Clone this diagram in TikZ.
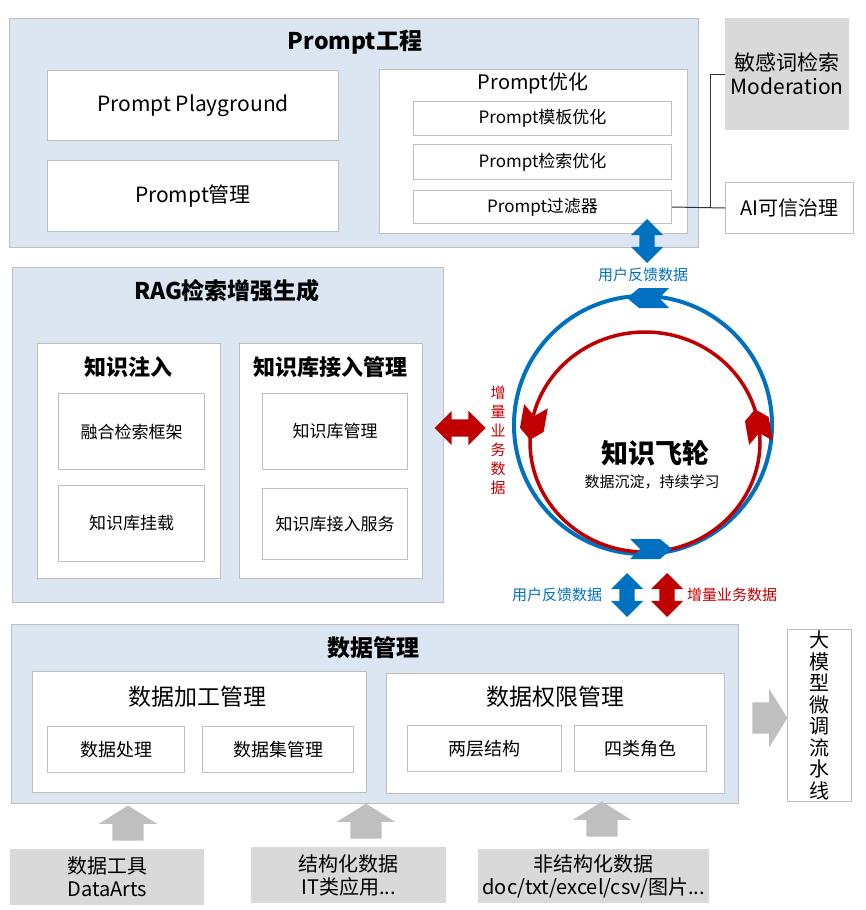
\documentclass[tikz,border=0pt]{standalone}
\usepackage{fontspec}
\setmainfont{Noto Sans CJK SC}
\usetikzlibrary{shapes.arrows}
\definecolor{flowblue}{HTML}{0070C0}
\definecolor{flowred}{HTML}{C00000}
\definecolor{panelblue}{HTML}{DCE6F2}
\definecolor{edgegray}{HTML}{BFBFBF}
\definecolor{boxgray}{HTML}{D9D9D9}
\definecolor{arrowgray}{HTML}{BFBFBF}
\begin{document}
\begin{tikzpicture}[x=1pt,y=-1pt,
    fs/.style n args={2}{font=\fontsize{#1}{#2}\selectfont},
    panel/.style={draw=edgegray, fill=panelblue, line width=1.2pt, anchor=north west, inner sep=0pt},
    card/.style={draw=edgegray, fill=white, line width=1pt, anchor=north west, inner sep=0pt, align=center},
    graycard/.style={fill=boxgray, anchor=north west, inner sep=0pt, align=center},
    headline/.style={font=\fontsize{23}{27}\selectfont\bfseries},
    fatarrow/.style={single arrow, fill=arrowgray, minimum height=35, minimum width=58,
        single arrow head extend=13.5, single arrow tip angle=116, inner xsep=0pt, inner ysep=15.5pt},
    duoarrow/.style={double arrow, minimum height=44, minimum width=32,
        double arrow head extend=8.5, double arrow tip angle=90, inner xsep=0pt, inner ysep=7.5pt}]
\useasboundingbox (0,0) rectangle (865,910);

% Prompt工程
\node[panel, minimum width=689, minimum height=229] (pe) at (9,18) {};
\node[headline] (pet) at (355,42) {Prompt工程};
\node[card, fs={21}{24}, minimum width=291, minimum height=70] (pg) at (47,70) {Prompt Playground};
\node[card, fs={21}{24}, minimum width=291, minimum height=71] (pm) at (47,160) {Prompt管理};
\node[card, minimum width=308, minimum height=164] (po) at (379,69) {};
\node[fs={20}{24}] (pot) at (533,83) {Prompt优化};
\node[card, fs={17}{20}, minimum width=258, minimum height=34] (pt) at (413,101) {Prompt模板优化};
\node[card, fs={17}{20}, minimum width=258, minimum height=35] (ps) at (413,144) {Prompt检索优化};
\node[card, fs={17}{20}, minimum width=258, minimum height=33] (pf) at (413,190) {Prompt过滤器};

% 可信治理
\node[graycard, fs={21}{24}, minimum width=124, minimum height=112] (mod) at (725,18) {敏感词检索\\Moderation};
\node[card, fs={20}{24}, minimum width=128, minimum height=51] (ai) at (725,182) {AI可信治理};
\coordinate (jn) at (710,207);
\draw[black!80, line width=1pt] (pf.east) -- (ai.west);
\draw[black!80, line width=1pt] (jn) |- (mod.west);

% RAG检索增强生成
\node[panel, minimum width=431, minimum height=335] (rag) at (12,267) {};
\node[headline] (ragt) at (227,291) {RAG检索增强生成};
\node[card, minimum width=183, minimum height=235] (ki) at (37,343) {};
\node[font=\fontsize{22}{26}\selectfont\bfseries] (kit) at (128,367) {知识注入};
\node[card, fs={17}{20}, minimum width=146, minimum height=76] (kf) at (58,393) {融合检索框架};
\node[card, fs={17}{20}, minimum width=146, minimum height=76] (kg) at (58,485) {知识库挂载};
\node[card, minimum width=183, minimum height=235] (kb) at (239,343) {};
\node[font=\fontsize{22}{26}\selectfont\bfseries] (kbt) at (330.5,367) {知识库接入管理};
\node[card, fs={17}{20}, minimum width=145, minimum height=76] (km) at (262,393) {知识库管理};
\node[card, fs={17}{20}, minimum width=145, minimum height=71] (ks) at (262,488) {知识库接入服务};

% 数据管理
\node[panel, minimum width=727, minimum height=179] (dm) at (11,624) {};
\node[headline] (dmt) at (373,648) {数据管理};
\node[card, minimum width=334, minimum height=121] (dp) at (32,671) {};
\node[fs={23}{27}] (dpt) at (197,697) {数据加工管理};
\node[card, fs={18}{21}, minimum width=137, minimum height=46] (dh) at (47,726) {数据处理};
\node[card, fs={18}{21}, minimum width=151, minimum height=46] (dj) at (202,726) {数据集管理};
\node[card, minimum width=338, minimum height=120] (dr) at (386,673) {};
\node[fs={23}{27}] (drt) at (555,697) {数据权限管理};
\node[card, fs={18}{21}, minimum width=154, minimum height=46] (dl) at (407,725) {两层结构};
\node[card, fs={18}{21}, minimum width=132, minimum height=46] (dc) at (574,725) {四类角色};

% 大模型微调流水线
\node[card, fs={20}{21.5}, minimum width=64, minimum height=172] (llm) at (787,629) {大\\模\\型\\微\\调\\流\\水\\线};
\node[fatarrow] (tollm) at (765,718) {};

% 数据来源
\node[graycard, fs={20}{23}, minimum width=194, minimum height=56] (src1) at (10,849) {数据工具\\DataArts};
\node[graycard, fs={20}{23}, minimum width=195, minimum height=56] (src2) at (251,847) {结构化数据\\IT类应用...};
\node[graycard, fs={20}{23}, minimum width=231, minimum height=54] (src3) at (478,849) {非结构化数据\\doc/txt/excel/csv/图片...};
\node[fatarrow, rotate=90] (up1) at (128,828) {};
\node[fatarrow, rotate=90] (up2) at (366,826) {};
\node[fatarrow, rotate=90] (up3) at (602,824) {};

% 知识飞轮
\draw[flowblue, line width=4pt] (643,425) circle [radius=129];
\draw[flowred, line width=3.5pt] (645,442) ellipse [x radius=115, y radius=110];
\fill[flowblue, shift={(648,298)}, rotate=180] (-21,-10) -- (9,-10) -- (21,0) -- (9,10) -- (-21,10) -- (-11,0) -- cycle;
\fill[flowblue, shift={(651,549)}] (-21,-10) -- (9,-10) -- (21,0) -- (9,10) -- (-21,10) -- (-11,0) -- cycle;
\fill[flowred, shift={(533,423)}, rotate=-100] (-17,-12) -- (7,-12) -- (17,0) -- (7,12) -- (-17,12) -- (-7,0) -- cycle;
\fill[flowred, shift={(758,426)}, rotate=100] (-17,-12) -- (7,-12) -- (17,0) -- (7,12) -- (-17,12) -- (-7,0) -- cycle;
\node[font=\fontsize{27}{30}\selectfont\bfseries] (fw) at (655,453) {知识飞轮};
\node[fs={15}{18}] (fwsub) at (652,482) {数据沉淀，持续学习};

% 数据流向
\node[duoarrow, fill=flowblue, rotate=90] (fbtop) at (647,241) {};
\node[fs={15}{18}, text=flowblue] (fbtopl) at (643,275) {用户反馈数据};
\node[duoarrow, fill=flowred, minimum height=51, minimum width=34, inner ysep=8.5pt] (incl) at (460,428) {};
\node[fs={15}{19}, text=flowred, align=center] (incll) at (498,440) {增\\量\\业\\务\\数\\据};
\node[duoarrow, fill=flowblue, rotate=90] (fbbot) at (627,595) {};
\node[fs={15}{18}, text=flowblue] (fbbotl) at (557,595) {用户反馈数据};
\node[duoarrow, fill=flowred, rotate=90] (incb) at (667,595) {};
\node[fs={15}{18}, text=flowred] (incbl) at (732,595) {增量业务数据};
\end{tikzpicture}
\end{document}
